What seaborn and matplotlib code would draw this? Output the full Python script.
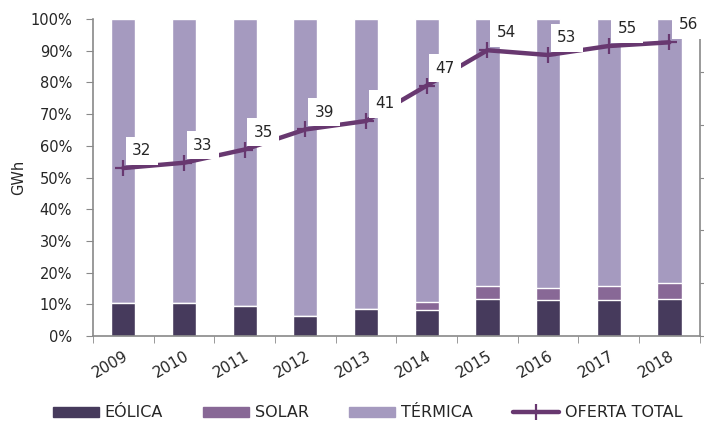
import numpy as np
import pandas as pd
import seaborn as sns
import matplotlib.pyplot as plt
from matplotlib.patches import Patch
from matplotlib.lines import Line2D
from matplotlib.ticker import PercentFormatter, FixedLocator

# data
years = ['2009', '2010', '2011', '2012', '2013', '2014', '2015', '2016', '2017', '2018']
eolica = [10.5, 10.5, 9.5, 6.3, 8.5, 8.2, 11.8, 11.4, 11.4, 11.8]
solar = [0.0, 0.0, 0.0, 0.0, 0.0, 2.6, 4.0, 3.7, 4.4, 4.9]
termica = [100 - e - s for e, s in zip(eolica, solar)]
oferta_total = [31.8, 32.8, 35.3, 39.1, 40.7, 47.4, 54.1, 53.2, 54.9, 55.6]

c_eol = '#463a5c'
c_sol = '#886896'
c_ter = '#a59abf'
c_line = '#683870'
grey = '#898989'

sns.set_style('white')
plt.rcParams['font.family'] = ['DejaVu Sans']

df = pd.DataFrame({'year': years, 'eolica': eolica, 'solar': solar,
                   'termica': termica, 'total': oferta_total})
df['cum_sol'] = df['eolica'] + df['solar']
df['cum_ter'] = df['cum_sol'] + df['termica']

fig, ax = plt.subplots(figsize=(7.04, 4.24), dpi=100)
fig.subplots_adjust(left=0.132, right=0.994, bottom=0.2075, top=0.955)

# stacked bars drawn as overlaid cumulative totals
sns.barplot(data=df, x='year', y='cum_ter', color=c_ter, width=0.4, ax=ax, saturation=1)
sns.barplot(data=df, x='year', y='cum_sol', color=c_sol, width=0.4, ax=ax, saturation=1)
sns.barplot(data=df, x='year', y='eolica', color=c_eol, width=0.4, ax=ax, saturation=1)

ax.set_ylim(0, 100)
ax.set_xlim(-0.5, 9.5)
ax.yaxis.set_major_locator(FixedLocator(np.arange(0, 101, 10)))
ax.yaxis.set_major_formatter(PercentFormatter(decimals=0))
ax.set_xlabel('')
ax.set_ylabel('GWh', fontsize=10.5, labelpad=3)
ax.tick_params(axis='y', labelsize=10.5, length=5, color=grey, direction='out', left=True, pad=10)
ax.tick_params(axis='x', which='major', labelsize=11, length=0, pad=9)
ax.set_xticks(np.arange(10))
ax.set_xticklabels(years, rotation=30, ha='right', rotation_mode='anchor')
ax.set_xticks(np.arange(-0.5, 10, 1), minor=True)
ax.tick_params(axis='x', which='minor', length=5, color=grey, direction='out', bottom=True)
for s in ['top', 'right']:
    ax.spines[s].set_visible(False)
for s in ['left', 'bottom']:
    ax.spines[s].set_color(grey)
    ax.spines[s].set_linewidth(1.2)

# total supply on the secondary axis
ax2 = ax.twinx()
xs = np.arange(len(years))
sns.lineplot(x=xs, y=oferta_total, ax=ax2, color=c_line, linewidth=3.2,
             marker='+', markersize=12, markeredgewidth=1.6, markeredgecolor=c_line)
ax2.set_ylim(0, 60)
ax2.set_xlim(-0.5, 9.5)
ax2.set_yticks(np.arange(0, 61, 10))
ax2.set_yticklabels([])
ax2.tick_params(axis='y', length=5, color=grey, direction='out', right=True)
for s in ['top', 'left', 'bottom']:
    ax2.spines[s].set_visible(False)
ax2.spines['right'].set_color(grey)
ax2.spines['right'].set_linewidth(1.2)

for x, v in zip(xs, oferta_total):
    ax2.annotate(f'{v:.0f}', (x, v), xytext=(6.5, 12.5), textcoords='offset points',
                 ha='left', va='center', fontsize=11, zorder=5,
                 bbox=dict(boxstyle='square,pad=0.42', fc='white', ec='none'))

handles = [Patch(color=c_eol, label='EÓLICA'),
           Patch(color=c_sol, label='SOLAR'),
           Patch(color=c_ter, label='TÉRMICA'),
           Line2D([0], [0], color=c_line, linewidth=3.2, marker='+', markersize=12,
                  markeredgewidth=1.6, label='OFERTA TOTAL')]
fig.legend(handles=handles, loc='lower center', bbox_to_anchor=(0.522, -0.025), ncol=4,
           frameon=False, fontsize=11.5, handlelength=2.9, handleheight=0.6,
           columnspacing=2.5, handletextpad=0.35)

plt.savefig('out.png', dpi=100)
